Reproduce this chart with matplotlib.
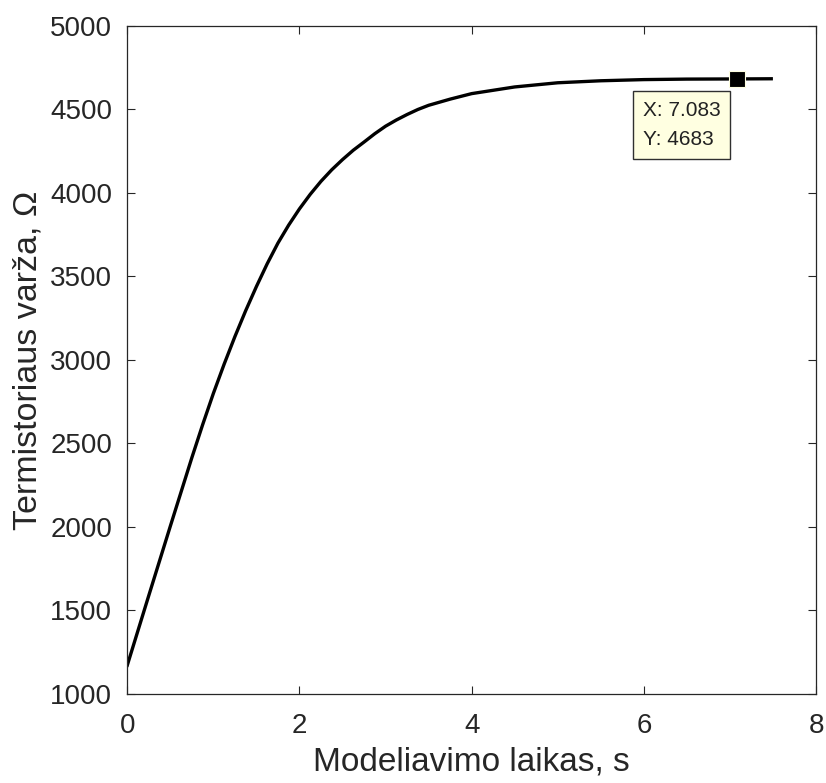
import numpy as np
import matplotlib
matplotlib.use("Agg")
import matplotlib.pyplot as plt

# Termistoriaus varzos kitimas laike (nuskaityta is grafiko)
laikas = [0, 0.25, 0.5, 0.75, 0.875, 1.0, 1.125, 1.25, 1.375, 1.5, 1.625,
          1.75, 1.875, 2.0, 2.125, 2.25, 2.375, 2.5, 2.625, 2.75, 2.875,
          3.0, 3.125, 3.25, 3.375, 3.5, 3.75, 4.0, 4.5, 5.0, 5.5, 6.0, 6.5,
          7.083, 7.48]
varza = [1172, 1590, 2005, 2415, 2612, 2800, 2975, 3140, 3295, 3440, 3576,
         3700, 3808, 3905, 3992, 4070, 4139, 4200, 4256, 4305, 4355,
         4400, 4437, 4470, 4500, 4525, 4562, 4595, 4635, 4660, 4672, 4679,
         4682, 4683, 4684]

# duomenu zymeklis (datatip)
tip_x = 7.083
tip_y = 4683

x_ticks = [0, 2, 4, 6, 8]
y_ticks = [1000, 1500, 2000, 2500, 3000, 3500, 4000, 4500, 5000]

plt.rcParams['font.family'] = ['Liberation Sans', 'DejaVu Sans']

fig = plt.figure(figsize=(8.26, 7.83), dpi=100)
ax = fig.add_axes([0.1541, 0.1137, 0.9879 - 0.1541, 0.9668 - 0.1137])

ax.plot(laikas, varza, color='black', linewidth=2.4, solid_joinstyle='round')
ax.plot([tip_x], [tip_y], marker='s', markersize=11.5, color='black',
        markeredgecolor='#FFFFE1', markeredgewidth=0.8)

ax.annotate('X: %.3f\nY: %d' % (tip_x, tip_y), xy=(tip_x, tip_y),
            xytext=(-68, -16), textcoords='offset points', ha='left', va='top',
            fontsize=15, linespacing=1.65, color='#222222',
            bbox=dict(boxstyle='square,pad=0.48', fc='#FFFFE1', ec='#303030', lw=1))

ax.set_xlim(0, 8)
ax.set_ylim(1000, 5000)
ax.set_xticks(x_ticks)
ax.set_yticks(y_ticks)

ax.tick_params(direction='in', length=6, width=0.8, colors='#262626',
               labelsize=20)
ax.tick_params(axis='x', pad=14, top=True)
ax.tick_params(axis='y', pad=11, right=True)
for s in ax.spines.values():
    s.set_color('#262626')
    s.set_linewidth(0.9)

ax.set_xlabel('Modeliavimo laikas, s', fontsize=24, color='#262626', labelpad=5)
ax.set_ylabel('Termistoriaus varža, Ω', fontsize=24.5, color='#262626', labelpad=5)

fig.savefig('out.png', dpi=100)
